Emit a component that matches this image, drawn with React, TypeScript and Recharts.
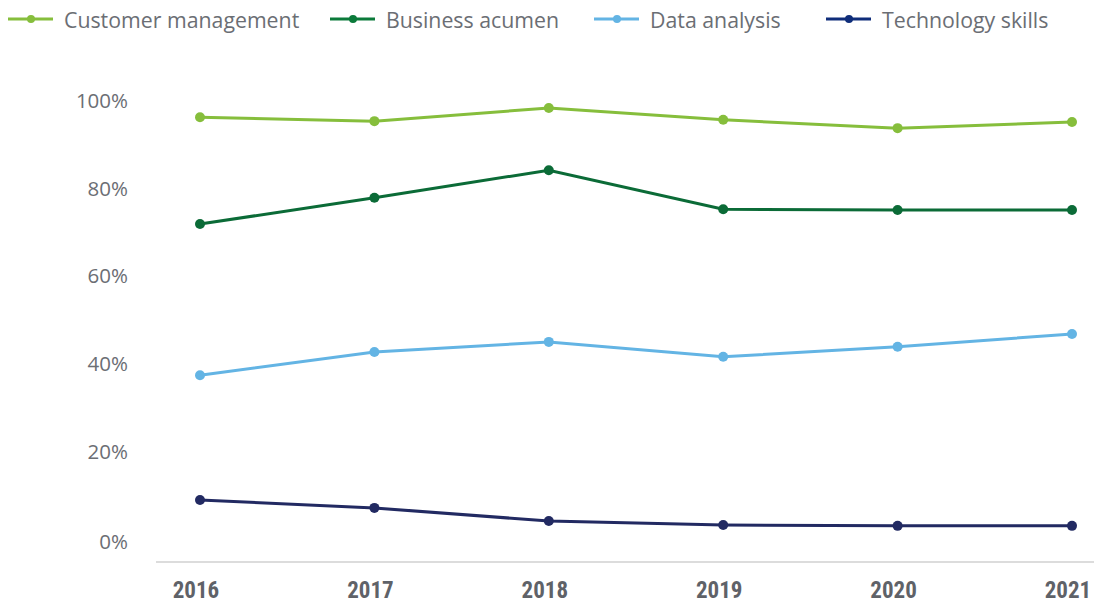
import React from "react";
import { LineChart, Line, XAxis, YAxis } from "recharts";

const years = ["2016", "2017", "2018", "2019", "2020", "2021"];
const customerManagement = [96.3, 95.4, 98.4, 95.7, 93.8, 95.2];
const businessAcumen = [71.9, 77.9, 84.2, 75.3, 75.1, 75.1];
const dataAnalysis = [37.4, 42.7, 45.0, 41.6, 43.9, 46.8];
const technologySkills = [8.9, 7.1, 4.1, 3.2, 3.0, 3.0];
const yTicks = [0, 20, 40, 60, 80, 100];

const series = [
  { key: "cm", name: "Customer management", color: "#86be3c", legendColor: "#86be3c", values: customerManagement, lx: 8 },
  { key: "ba", name: "Business acumen", color: "#0b6b37", legendColor: "#0b7a3a", values: businessAcumen, lx: 330 },
  { key: "da", name: "Data analysis", color: "#63b4e4", legendColor: "#63b4e4", values: dataAnalysis, lx: 594 },
  { key: "ts", name: "Technology skills", color: "#222a62", legendColor: "#0f2d7a", values: technologySkills, lx: 826 },
];

const data = years.map((y, i) => {
  const row: Record<string, any> = { year: y };
  series.forEach((s) => (row[s.key] = s.values[i]));
  return row;
});

const FONT = "'Open Sans', sans-serif";
const GRAY = "#6b6e74";

function LegendBar() {
  return (
    <>
      {series.map((s) => (
        <div
          key={s.key}
          style={{
            position: "absolute",
            left: s.lx,
            top: 4,
            display: "flex",
            alignItems: "center",
            fontFamily: FONT,
            fontSize: 21.3,
            color: GRAY,
            whiteSpace: "nowrap",
            height: 30,
          }}
        >
          <svg width={45} height={12} style={{ marginRight: 11 }}>
            <line x1={0} y1={6} x2={45} y2={6} stroke={s.legendColor} strokeWidth={3} />
            <circle cx={23} cy={6} r={4} fill={s.legendColor} />
          </svg>
          <span>{s.name}</span>
        </div>
      ))}
    </>
  );
}

function YTick(props: any) {
  const { x, y, payload } = props;
  const shift = payload.value === 0 ? 3 : 0;
  return (
    <text x={x} y={y + shift} dy="0.355em" textAnchor="end" fill={GRAY} fontSize={20.5} fontFamily={FONT}>
      {`${payload.value}%`}
    </text>
  );
}

function XTick(props: any) {
  const { x, y, payload } = props;
  return (
    <text
      x={x - 4}
      y={y}
      dy="0.71em"
      textAnchor="middle"
      fill="#5f6268"
      fontSize={23}
      fontWeight={700}
      fontFamily="'Liberation Sans Narrow', 'Roboto Condensed', sans-serif"
    >
      {payload.value}
    </text>
  );
}

export default function App() {
  return (
    <div style={{ position: "absolute", left: 0, top: 0, width: 1094, height: 605, background: "#fff" }}>
      <LegendBar />
      <LineChart
        width={1094}
        height={605}
        data={data}
        margin={{ top: 101, right: 0, left: 0, bottom: 0 }}
      >
        <XAxis
          dataKey="year"
          padding={{ left: 44, right: 22 }}
          tickLine={false}
          axisLine={{ stroke: "#dcdcdc", strokeWidth: 2 }}
          tickMargin={14}
          height={43}
          tick={<XTick />}
        />
        <YAxis
          width={156}
          domain={[-5.25, 100]}
          ticks={yTicks}
          allowDataOverflow
          tickLine={false}
          axisLine={false}
          tickMargin={22}
          tick={<YTick />}
        />
        {series.map((s) => (
          <Line
            key={s.key}
            type="linear"
            dataKey={s.key}
            name={s.name}
            stroke={s.color}
            strokeWidth={3}
            dot={{ r: 5, fill: s.color, stroke: s.color, strokeWidth: 0 }}
            activeDot={false}
            isAnimationActive={false}
          />
        ))}
      </LineChart>
    </div>
  );
}
